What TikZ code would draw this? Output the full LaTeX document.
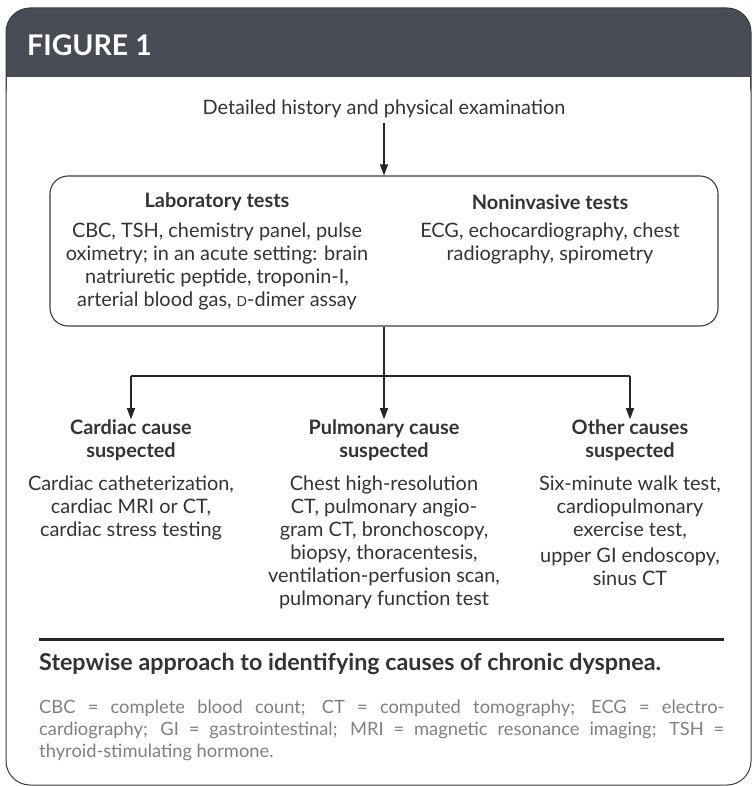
\documentclass[tikz,border=0pt]{standalone}
\usepackage{fontspec}
\setmainfont{Lato}
\usetikzlibrary{arrows.meta}
\definecolor{hdr}{HTML}{484C55}
\definecolor{txt}{HTML}{333333}
\definecolor{fn}{HTML}{808080}
\definecolor{framec}{HTML}{3C3C3C}
\newcommand{\smD}{{\fontsize{13.8}{13.8}\selectfont D}}
\begin{document}
\begin{tikzpicture}[x=1pt,y=-1pt,
  txtbase/.style={text=txt,font=\fontsize{19.9}{23}\selectfont,inner sep=0pt,align=center},
  headtxt/.style={txtbase,font=\fontsize{19.9}{23}\selectfont\bfseries},
  conn/.style={draw=black!85,line width=1.1pt},
  arr/.style={conn,-{Triangle[length=11pt,width=8pt]}}]
\useasboundingbox (0,0) rectangle (752,786);
% header
\fill[hdr,rounded corners=24] (6,8) rectangle (751,110);
\fill[white] (6.6,77) rectangle (750.4,115);
\draw[framec,line width=1pt,rounded corners=24] (6,785) -- (6,8) -- (751,8) -- (751,785) -- cycle;
\node[anchor=west,text=white,inner sep=0pt,font=\fontsize{28.5}{28.5}\selectfont\bfseries] (title) at (27,45) {FIGURE 1};
% top node
\node[txtbase] (hist) at (384,109) {Detailed history and physical examination};
% box
\node[draw=framec,line width=1.1pt,rounded corners=18,minimum width=668pt,minimum height=150pt,inner sep=0pt] (box) at (384,251) {};
\draw[arr,shorten <=5pt] (hist.south) -- (box.north);
\node[headtxt] (labh) at (217,202) {Laboratory tests};
\node[txtbase] (labb) at (217,266) {CBC, TSH, chemistry panel, pulse\\oximetry; in an acute setting: brain\\natriuretic peptide, troponin-I,\\arterial blood gas, \smD-dimer assay};
\node[headtxt] (nonh) at (550,202) {Noninvasive tests};
\node[txtbase] (nonb) at (550,243) {ECG, echocardiography, chest\\radiography, spirometry};
% branches
\coordinate (split) at (384,376);
\coordinate (lft) at (131,376);
\coordinate (rgt) at (630,376);
\node[headtxt] (card) at (131,440) {Cardiac cause\\suspected};
\node[headtxt] (pulm) at (384,440) {Pulmonary cause\\suspected};
\node[headtxt] (oth) at (630,440) {Other causes\\suspected};
\draw[conn] (box.south) -- (split);
\draw[conn] (lft) -- (rgt);
\draw[arr] (lft) -- (card.north);
\draw[arr] (split) -- (pulm.north);
\draw[arr] (rgt) -- (oth.north);
\node[txtbase,anchor=north] (cardb) at (131,476) {Cardiac catheterization,\\cardiac MRI or CT,\\cardiac stress testing};
\node[txtbase,anchor=north] (pulmb) at (384,476) {Chest high-resolution\\CT, pulmonary angio-\\gram CT, bronchoscopy,\\biopsy, thoracentesis,\\ventilation-perfusion scan,\\pulmonary function test};
\node[txtbase,anchor=north] (othb) at (630,476) {Six-minute walk test,\\cardiopulmonary\\exercise test,\\[3pt]upper GI endoscopy,\\sinus CT};
% rule
\coordinate (r1) at (39,639);
\coordinate (r2) at (724,639);
\draw[black!85,line width=3pt] (r1) -- (r2);
\node[anchor=west,inner sep=0pt,text=txt,font=\fontsize{23.3}{26}\selectfont\bfseries] (cap) at (39,664) {Stepwise approach to identifying causes of chronic dyspnea.};
\node[anchor=north west,inner sep=0pt,text=fn,text width=685pt,align=justify,font=\fontsize{18.3}{22}\selectfont] (foot) at (39,700) {CBC = complete blood count; CT = computed tomography; ECG = electro-\linebreak cardiography; GI = gastrointestinal; MRI = magnetic resonance imaging; TSH =\linebreak thyroid-stimulating hormone.};
\end{tikzpicture}
\end{document}
